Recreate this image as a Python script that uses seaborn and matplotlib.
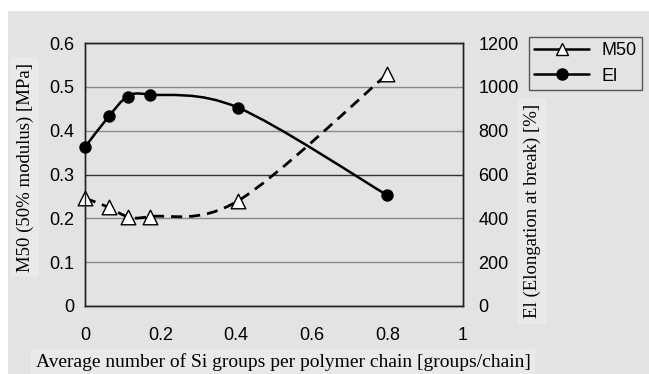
import numpy as np
import matplotlib
matplotlib.use("Agg")
import matplotlib.pyplot as plt
from matplotlib.path import Path
from matplotlib.patches import PathPatch, Rectangle
from matplotlib.lines import Line2D
import seaborn as sns

# data
si_groups = [0, 0.063, 0.113, 0.173, 0.405, 0.80]
m50 = [0.246, 0.225, 0.204, 0.204, 0.240, 0.529]
elongation = [725, 865, 955, 965, 905, 505]

x_ticks = [0, 0.2, 0.4, 0.6, 0.8, 1]
x_labels = ["0", "0.2", "0.4", "0.6", "0.8", "1"]
m50_ticks = [0, 0.1, 0.2, 0.3, 0.4, 0.5, 0.6]
m50_labels = ["0", "0.1", "0.2", "0.3", "0.4", "0.5", "0.6"]
el_ticks = [0, 200, 400, 600, 800, 1000, 1200]
el_labels = ["0", "200", "400", "600", "800", "1000", "1200"]

BG = "#e3e3e3"
LABEL_BG = "#e9e9e9"
SANS = "Liberation Sans"
SERIF = "Liberation Serif"


def smooth_path(xs, ys):
    """Bezier path through the points (like a spreadsheet 'smoothed line')."""
    pts = np.column_stack([xs, ys])
    ext = np.vstack([pts[0], pts, pts[-1]])
    verts = [pts[0]]
    codes = [Path.MOVETO]
    for i in range(len(pts) - 1):
        p0, p1, p2, p3 = ext[i], ext[i + 1], ext[i + 2], ext[i + 3]
        verts += [p1 + (p2 - p0) / 6, p2 - (p3 - p1) / 6, p2]
        codes += [Path.CURVE4] * 3
    return Path(verts, codes)


sns.set_style("white")
plt.rcParams["font.family"] = [SANS, "DejaVu Sans"]
plt.rcParams["text.color"] = "black"
plt.rcParams["xtick.color"] = "black"
plt.rcParams["ytick.color"] = "black"

fig = plt.figure(figsize=(6.49, 3.74), dpi=100)
fig.patch.set_facecolor("white")
fig.patches.append(Rectangle((8 / 649, 0), 1, 363 / 374, transform=fig.transFigure,
                             facecolor=BG, edgecolor="none", zorder=-10))

ax = fig.add_axes([85 / 649, 68 / 374, 378 / 649, 263 / 374])
ax.set_facecolor(BG)
ax2 = ax.twinx()

# M50 on the left axis
ax.add_patch(PathPatch(smooth_path(si_groups, m50), facecolor="none", edgecolor="black",
                       lw=2.0, linestyle=(0, (4, 2.5)), zorder=3))
sns.scatterplot(x=si_groups, y=m50, ax=ax, marker="^", s=110, color="white",
                edgecolor="black", linewidth=1.0, zorder=4, clip_on=False)

# El on the right axis
ax2.add_patch(PathPatch(smooth_path(si_groups, elongation), facecolor="none",
                        edgecolor="black", lw=1.8, zorder=3))
sns.scatterplot(x=si_groups, y=elongation, ax=ax2, marker="o", s=80, color="black",
                edgecolor="black", linewidth=0, zorder=4, clip_on=False)

ax.set_xlim(0, 1)
ax.set_ylim(0, 0.6)
ax2.set_ylim(0, 1200)

ax.set_xticks(x_ticks)
ax.set_xticklabels(x_labels)
ax.set_yticks(m50_ticks)
ax.set_yticklabels(m50_labels)
ax2.set_yticks(el_ticks)
ax2.set_yticklabels(el_labels)

ax.tick_params(axis="x", direction="in", length=6, width=1, color="#444", pad=15,
               labelsize=13, labelcolor="black")
ax.tick_params(axis="y", length=0, pad=8, labelsize=13, labelcolor="black")
ax2.tick_params(axis="y", length=0, pad=11, labelsize=13, labelcolor="black")

ax.yaxis.grid(True, color="#8a8a8a", lw=1)
ax.set_axisbelow(True)
ax.get_ygridlines()[3].set_color("#333333")

for a in (ax, ax2):
    for s in a.spines.values():
        s.set_color("#222222")
        s.set_linewidth(1)
    a.set_xlabel("")
    a.set_ylabel("")

fig.text(283 / 649, 12 / 374,
         "Average number of Si groups per polymer chain [groups/chain]",
         family=SERIF, fontsize=14, ha="center", va="center",
         bbox=dict(facecolor=LABEL_BG, edgecolor="none", pad=3))
fig.text(25 / 649, 1 - 167 / 374, "M50 (50% modulus) [MPa]", family=SERIF,
         fontsize=13.5, rotation=90, ha="center", va="center",
         bbox=dict(facecolor=LABEL_BG, edgecolor="none", pad=4))
fig.text(532 / 649, 1 - 211 / 374, "El (Elongation at break) [%]", family=SERIF,
         fontsize=13.5, rotation=90, ha="center", va="center",
         bbox=dict(facecolor=LABEL_BG, edgecolor="none", pad=4))

handles = [
    Line2D([], [], color="black", lw=1.8, marker="^", markersize=9,
           markerfacecolor="white", markeredgecolor="black"),
    Line2D([], [], color="black", lw=1.8, marker="o", markersize=8,
           markerfacecolor="black"),
]
leg = fig.legend(handles, ["M50", "El"], loc="upper left",
                 bbox_to_anchor=(529 / 649, 1 - 37 / 374), frameon=True,
                 fancybox=False, edgecolor="#555555", facecolor=BG, framealpha=1,
                 fontsize=13, handlelength=3.0, borderpad=0.3, labelspacing=0.45,
                 handletextpad=0.7, borderaxespad=0)
leg.get_frame().set_linewidth(1)

fig.savefig("out.png", dpi=100)
